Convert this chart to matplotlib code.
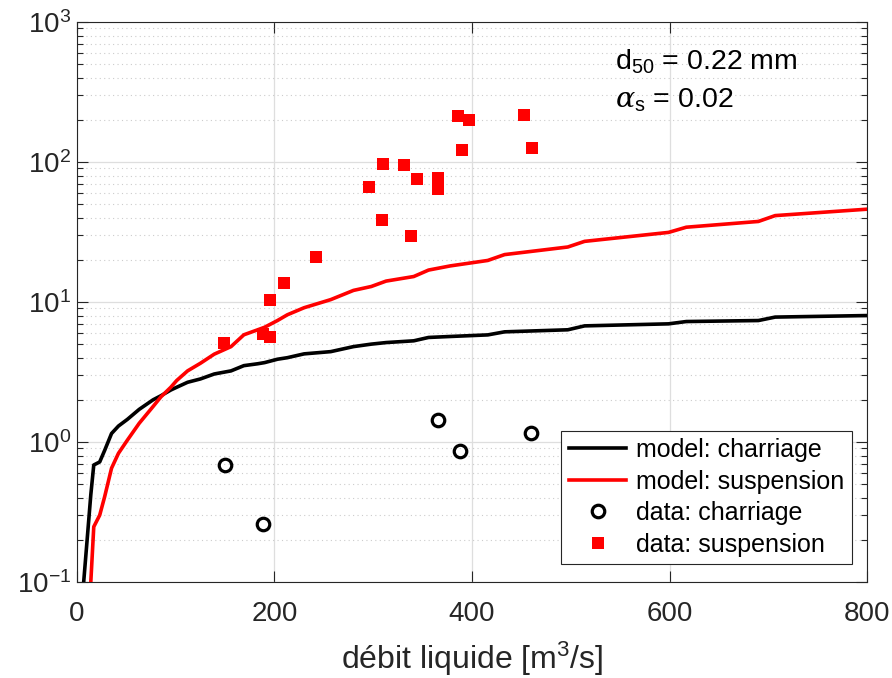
import matplotlib
matplotlib.use("Agg")
import matplotlib.pyplot as plt

plt.rcParams['font.family'] = ['Liberation Sans', 'DejaVu Sans']
plt.rcParams['mathtext.fontset'] = 'custom'
plt.rcParams['mathtext.rm'] = 'Liberation Sans'
plt.rcParams['mathtext.it'] = 'DejaVu Serif:italic'
plt.rcParams['mathtext.default'] = 'regular'

# model curves (discharge in m3/s)
q_model = [5, 14, 17, 23, 28, 35, 42, 51, 63, 77, 85, 95, 101, 112, 125, 139, 156, 169,
           183, 190, 203, 213, 230, 257, 280, 298, 313, 341, 356, 378, 416, 433, 497,
           514, 599, 617, 690, 707, 800]
model_charriage = [0.07, 0.42, 0.685, 0.72, 0.87, 1.15, 1.30, 1.45, 1.71, 2.0, 2.14, 2.35,
                   2.46, 2.67, 2.82, 3.06, 3.22, 3.51, 3.62, 3.69, 3.9, 4.0, 4.26, 4.42,
                   4.8, 5.0, 5.13, 5.28, 5.58, 5.67, 5.82, 6.12, 6.33, 6.75, 6.98, 7.25,
                   7.37, 7.8, 8.0]
model_suspension = [0.01, 0.1, 0.248, 0.30, 0.406, 0.65, 0.83, 1.03, 1.36, 1.79, 2.1, 2.46,
                    2.75, 3.22, 3.65, 4.24, 4.8, 5.83, 6.33, 6.6, 7.37, 8.1, 9.1, 10.4,
                    12.1, 12.9, 14.1, 15.2, 16.9, 18.1, 19.8, 21.8, 24.7, 27.1, 31.4,
                    34.2, 37.6, 41.4, 46.0]

# measurements
q_charriage = [149.6, 188, 365.5, 388, 460]
data_charriage = [0.685, 0.259, 1.44, 0.86, 1.16]

q_suspension = [149, 188.5, 195, 195, 210, 242, 296, 309, 310, 331, 338, 344, 366, 366,
                386, 390, 397, 453, 461]
data_suspension = [5.1, 5.93, 5.6, 10.3, 13.6, 20.8, 66, 38.7, 96, 95, 29.7, 75, 77, 64,
                   214, 121, 200, 217, 125]

fig = plt.figure(figsize=(8.92, 6.78), dpi=100)
ax = fig.add_axes([0.0863, 0.1416, 0.8857, 0.826])

ax.plot(q_model, model_charriage, color='black', lw=2.6, label='model: charriage', zorder=3)
ax.plot(q_model, model_suspension, color='red', lw=2.6, label='model: suspension', zorder=3)
ax.plot(q_charriage, data_charriage, 'o', mfc='none', mec='black', ms=9, mew=2.3,
        label='data: charriage', zorder=4)
ax.plot(q_suspension, data_suspension, 's', color='red', ms=8, mew=0,
        label='data: suspension', zorder=4)

ax.set_yscale('log')
ax.set_xlim(0, 800)
ax.set_ylim(0.1, 1000)
ax.set_xticks([0, 200, 400, 600, 800])

ax.grid(True, which='major', color='0.87', lw=0.9)
ax.grid(True, which='minor', axis='y', ls=(0, (1, 3)), color='0.8', lw=0.8)
ax.set_axisbelow(True)

ax.tick_params(which='both', direction='in', top=True, right=True, colors='0.15',
               labelcolor='0.15', labelsize=20)
ax.tick_params(axis='x', pad=14)
ax.tick_params(axis='y', pad=4)
ax.tick_params(which='major', length=8, width=0.8)
ax.tick_params(which='minor', length=4, width=0.8)
for s in ax.spines.values():
    s.set_color('0.15')
    s.set_linewidth(0.8)

ax.set_xlabel('débit liquide [m$^3$/s]', fontsize=23, color='0.15', labelpad=9)

ax.text(0.681, 0.929, 'd$_{50}$ = 0.22 mm', transform=ax.transAxes, fontsize=20.5, va='center')
ax.text(0.681, 0.861, r'$\mathit{\alpha}_{s}$ = 0.02', transform=ax.transAxes, fontsize=20.5,
        va='center')

leg = ax.legend(loc='lower right', bbox_to_anchor=(0.981, 0.032), borderaxespad=0,
                fontsize=18, fancybox=False, framealpha=1, edgecolor='0.15',
                handlelength=2.3, labelspacing=0.3, handletextpad=0.4, borderpad=0.3)
leg.get_frame().set_linewidth(0.8)

fig.savefig('out.png', dpi=100)
